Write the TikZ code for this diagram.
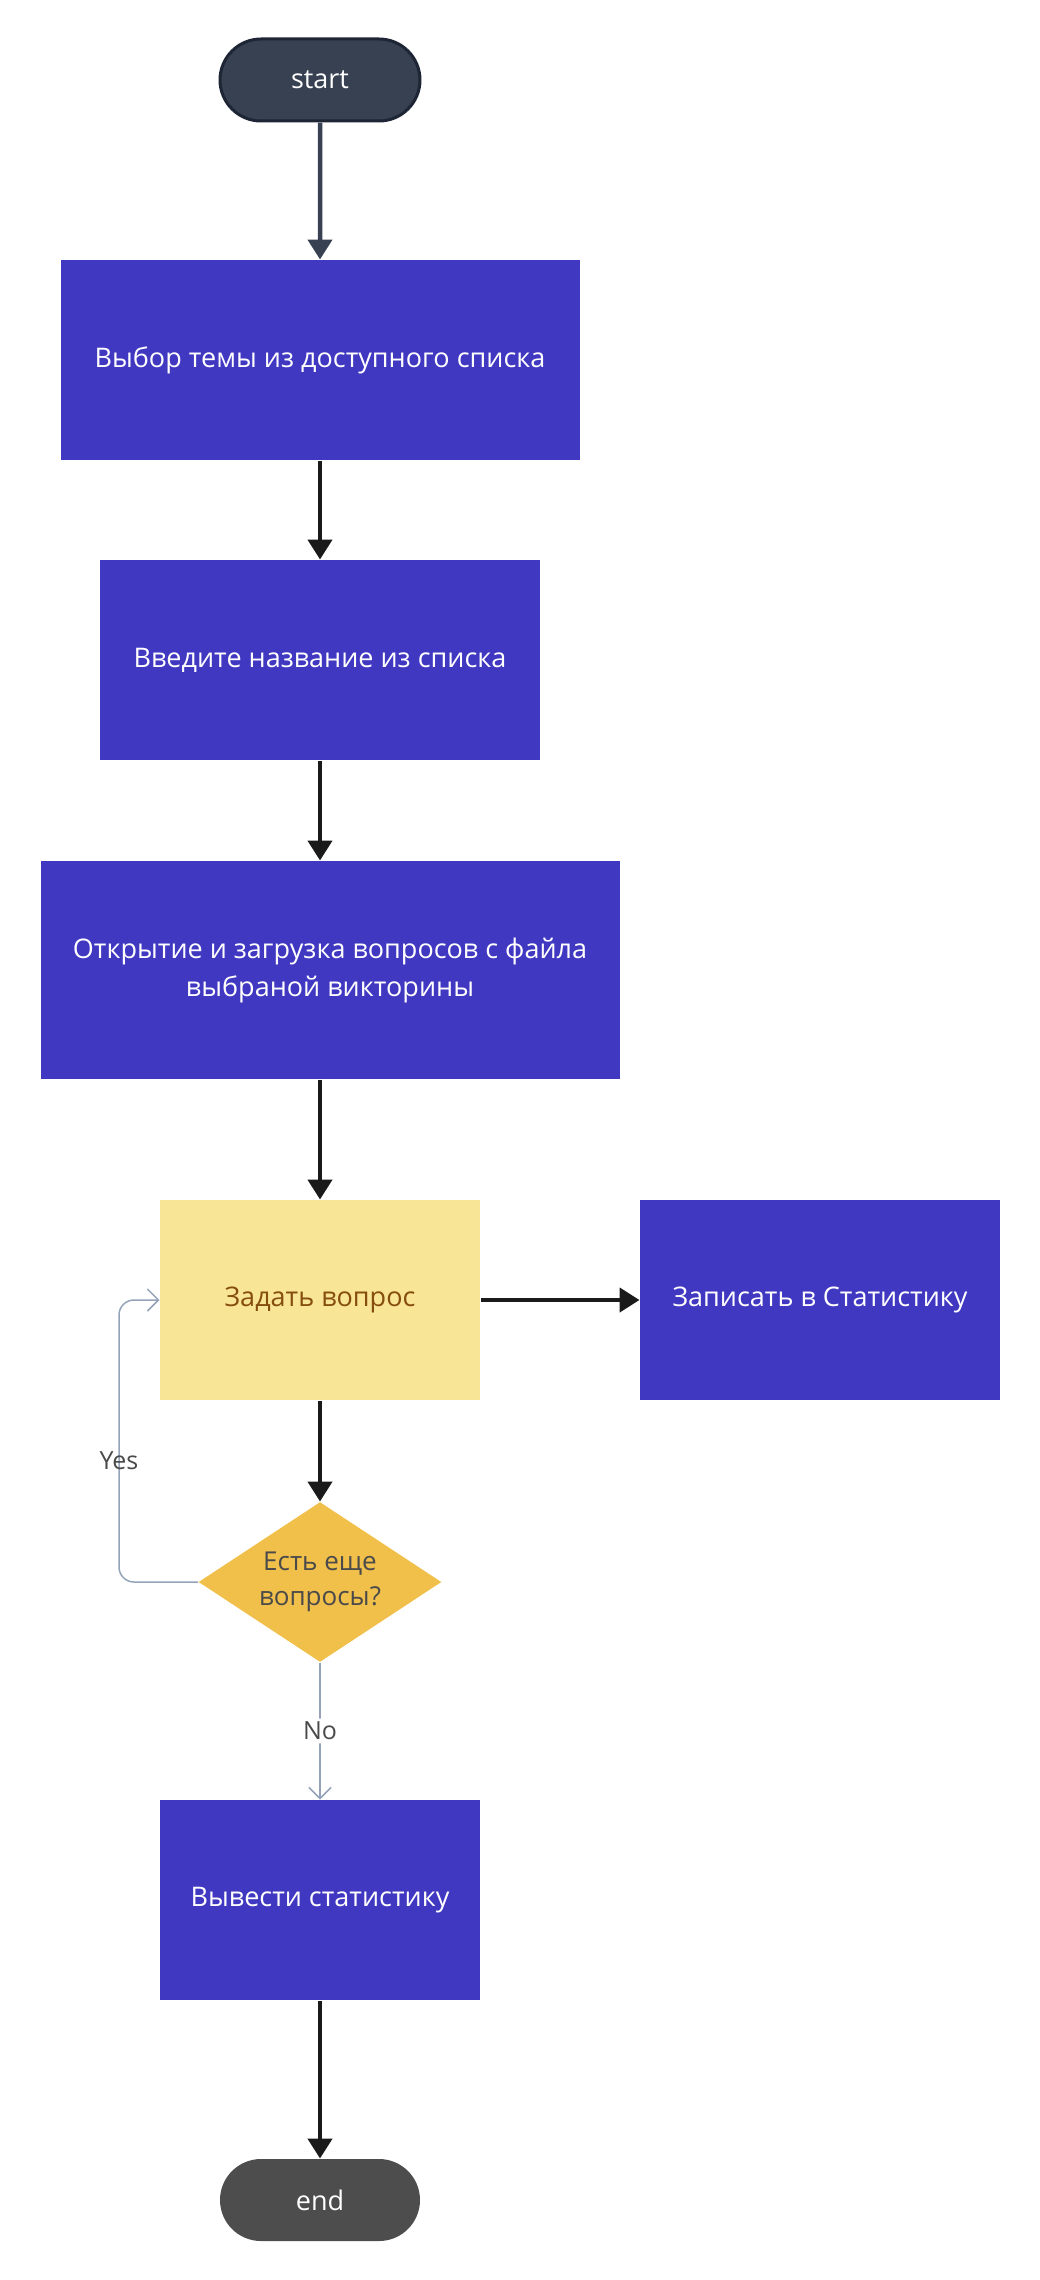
\documentclass[tikz,border=0pt]{standalone}
\usepackage{fontspec}
\setmainfont{Open Sans}
\usetikzlibrary{positioning,shapes.geometric,shapes.misc,arrows.meta}
\tikzset{
every picture/.style={
line width=1pt
}}
\definecolor{boxblue}{HTML}{4138C2}
\definecolor{askyellow}{HTML}{F9E596}
\definecolor{askbrown}{HTML}{854D0E}
\definecolor{diamyellow}{HTML}{F1C04B}
\definecolor{labelgrey}{HTML}{4A4A4A}
\definecolor{startgrey}{HTML}{374151}
\definecolor{startedge}{HTML}{1E2535}
\definecolor{endgrey}{HTML}{4D4D4D}
\definecolor{arrowblack}{HTML}{1A1A1A}
\definecolor{linegrey}{HTML}{94A3B8}

\begin{document}
\begin{tikzpicture}[x=1pt, y=-1pt,
block/.style = {rectangle, fill=boxblue, text=white, align=center, inner sep=0pt, minimum height=200pt},
term/.style = {rounded rectangle, minimum width=200pt, minimum height=82pt, text=white, inner sep=0pt},
flow/.style = {-{Triangle[length=20pt,width=24pt]}, line width=4.5pt, draw=arrowblack},
branch/.style = {-{Straight Barb[length=11pt,width=22pt]}, line width=1.5pt, draw=linegrey, rounded corners=15pt},
font=\fontsize{27}{38}\selectfont]
\useasboundingbox (0,0) rectangle (1040,2280);

\node[term, fill=startgrey, draw=startedge, line width=3pt] at (320,80) (start) {start};
\node[block, minimum width=519pt] at (320,360) (topic) {Выбор темы из доступного списка};
\node[block, minimum width=440pt] at (320,660) (name) {Введите название из списка};
\node[block, minimum width=579pt, minimum height=218pt] at (330,970) (load) {Открытие и загрузка вопросов с файла\\выбраной викторины};
\node[block, fill=askyellow, text=askbrown, minimum width=320pt] at (320,1300) (ask) {Задать вопрос};
\node[block, minimum width=360pt] at (820,1300) (stat) {Записать в Статистику};
\node[diamond, fill=diamyellow, text=labelgrey, align=center, inner sep=0pt, aspect=1.52, minimum width=243pt, minimum height=160pt, font=\fontsize{26}{35}\selectfont] at (320,1582) (more) {Есть еще\\вопросы?};
\node[block, minimum width=320pt] at (320,1900) (show) {Вывести статистику};
\node[term, fill=endgrey] at (320,2200) (stop) {end};

\draw[flow, draw=startgrey] (start) -- (topic);
\draw[flow] (topic) -- (name);
\draw[flow] (name.south) -- (name.south |- load.north);
\draw[flow] (load.south -| ask.north) -- (ask.north);
\draw[flow] (ask.east) -- (stat.west);
\draw[flow] (ask) -- (more);
\draw[flow] (show) -- (stop);

\coordinate (loop) at (119,1582);
\draw[branch] (more.west) -- (loop) |- node[pos=0.215, text=labelgrey, font=\fontsize{25}{30}\selectfont] {Yes} (ask.west);
\draw[branch] (more.south) -- node[fill=white, text=labelgrey, font=\fontsize{25}{30}\selectfont] {No} (show.north);
\end{tikzpicture}
\end{document}
